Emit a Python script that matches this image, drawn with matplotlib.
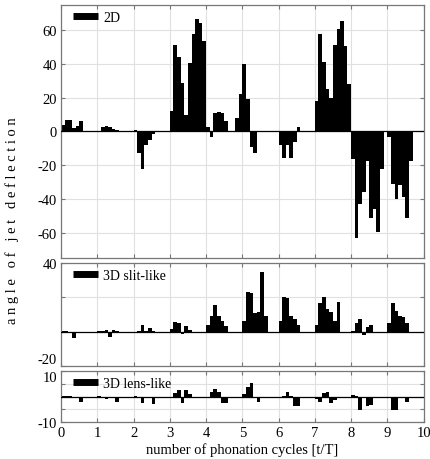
import numpy as np
import matplotlib
matplotlib.use('Agg')
import matplotlib.pyplot as plt
from matplotlib.lines import Line2D

# jet deflection angle, one value per 0.1 t/T (one row per cycle)
angle_2d = [
    4, 7, 7, 2, 3, 6, 0, 0, 0, 0,
    0, 2.5, 3, 2.5, 1.5, 1, 0, 0, 0, 0,
    1, -13, -22.5, -8, -5, -1.5, 0, 0, 0, 0,
    12, 51.5, 44, 29, 10, 40.5, 58, 66.5, 64.5, 53.5,
    2.5, -3, 11, 11.5, 11, 6.5, 0, 0, 8, 22,
    40, 19.5, -9, -12.5, 0, 0.5, 0, 0, 0, 0,
    -8, -15.5, -8, -16, -6, 2.5, 0, 0, 0, 0,
    18, 58, 41, 25, 20, 51.5, 61, 65.5, 50.5, 28,
    -16.5, -63, -43, -36, -17.5, -51.5, -46, -59.5, -22, 0,
    -3, -31, -40, -32, -39, -51.5, -17.5, 0, 0, 0,
]
angle_slit = [
    0.5, 0.5, 0, -3.5, 0, 0, 0, 0, 0, 0,
    0.5, 0.5, 0.8, -3, 1.3, 0.3, 0, 0, 0, 0,
    -0.3, 0.3, 4, 0.5, 2, 0.2, 0, 0, 0, 0,
    1.5, 5.5, 5, -1.5, 3.5, 1.2, 0, 0, 0, 0,
    4, 9.3, 15.7, 9, 6.5, 3.5, 0, 0, 0, 0,
    6, 23, 22.5, 10.7, 11.6, 34.5, 9.3, 0, 0, 0,
    6, 20.3, 19.6, 9.3, 7.4, 3.9, 0, 0, 0, 0,
    4, 16.5, 20, 13.5, 11.6, 6, 17.6, 0, 0, 0,
    0.6, 5, 7.4, -1.7, 2.5, 4, 0, 0, 0, 0,
    5, 16.7, 12.2, 9.3, 8.7, 5, 0, 0, 0, 0,
]
angle_lens = [
    0.2, 0.2, 0.2, 0, 0, -2, 0, 0, 0, 0,
    0.3, -0.4, -1, -0.3, 0, -2, 0, 0, 0, 0,
    0.3, -0.3, -2.3, -0.3, -0.3, -2.8, 0, 0, 0, 0,
    -0.3, 1.5, 2.6, -2.6, 2.6, 1, 0, 0, 0, 0,
    -0.3, 1.8, 3, 1.7, -2.6, -2.6, 0, 0, 0, 0,
    0.9, 3.8, 5.5, -0.3, -2, 0, 0, 0, 0, 0,
    0, 0.3, 1.7, 0.3, -3.5, -3.5, 0, 0, 0, 0,
    -0.9, -2, 1.3, 1.7, -2.6, -1.3, 0, 0, 0, 0,
    0.6, 0.2, -5.1, -0.3, -3.8, -3.2, 0, 0, 0, 0,
    -0.3, -5.4, -5.4, -0.3, 0, -2, 0, 0, 0, 0,
]
t = np.arange(len(angle_2d)) * 0.1

labels = ['2D', '3D slit-like', '3D lens-like']
ylims = [(-75, 75), (-20, 40), (-10, 10)]
yticks = [[-60, -40, -20, 0, 20, 40, 60], [-20, 0, 20, 40], [-10, -5, 0, 5, 10]]
yticklabels = [['-60', '-40', '-20', '0', '20', '40', '60'],
               ['-20', '', '', '40'],
               ['-10', '', '', '', '10']]
xticks = list(range(11))

plt.rcParams['font.family'] = ['Liberation Serif', 'DejaVu Serif']

fig = plt.figure(figsize=(4.3, 4.6), dpi=100)
boxes = [[0.142, 0.437, 0.843, 0.550],
         [0.142, 0.202, 0.843, 0.224],
         [0.142, 0.080, 0.843, 0.111]]
series = [angle_2d, angle_slit, angle_lens]

for i, (box, vals) in enumerate(zip(boxes, series)):
    ax = fig.add_axes(box)
    ax.bar(t, vals, width=0.1, align='edge', color='black', linewidth=0)
    ax.axhline(0, color='black', lw=0.9, zorder=3)
    ax.set_xlim(0, 10)
    ax.set_ylim(*ylims[i])
    ax.set_yticks(yticks[i])
    ax.set_yticklabels(yticklabels[i])
    ax.set_xticks(xticks)
    if i < 2:
        ax.set_xticklabels([])
    ax.grid(True, color='#e0e0e0', lw=0.8)
    ax.set_axisbelow(True)
    ax.tick_params(direction='in', top=True, right=True, length=3,
                   color='#777777', labelsize=10.5, pad=3)
    for sp in ax.spines.values():
        sp.set_color('#777777')
        sp.set_linewidth(0.9)
    # keep edge labels of the small panels inside their own panel
    if i == 1:
        ax.get_yticklabels()[0].set_va('bottom')
    if i == 2:
        ax.get_yticklabels()[-1].set_va('top')
    handle = Line2D([0], [0], color='black', lw=5, solid_capstyle='butt')
    ax.legend([handle], [labels[i]], loc='upper left', frameon=False,
              bbox_to_anchor=(0.017, 1.0),
              handlelength=1.8, handletextpad=0.4, fontsize=10,
              borderaxespad=0.1, borderpad=0.3)
    if i == 2:
        ax.set_xlabel('number of phonation cycles [t/T]', fontsize=10.5,
                      labelpad=2)

fig.text(0.028, 0.52, 'a n g l e   o f   j e t   d e f l e c t i o n',
         rotation=90, ha='center', va='center', fontsize=10.5)

fig.savefig('out.png', dpi=100)
